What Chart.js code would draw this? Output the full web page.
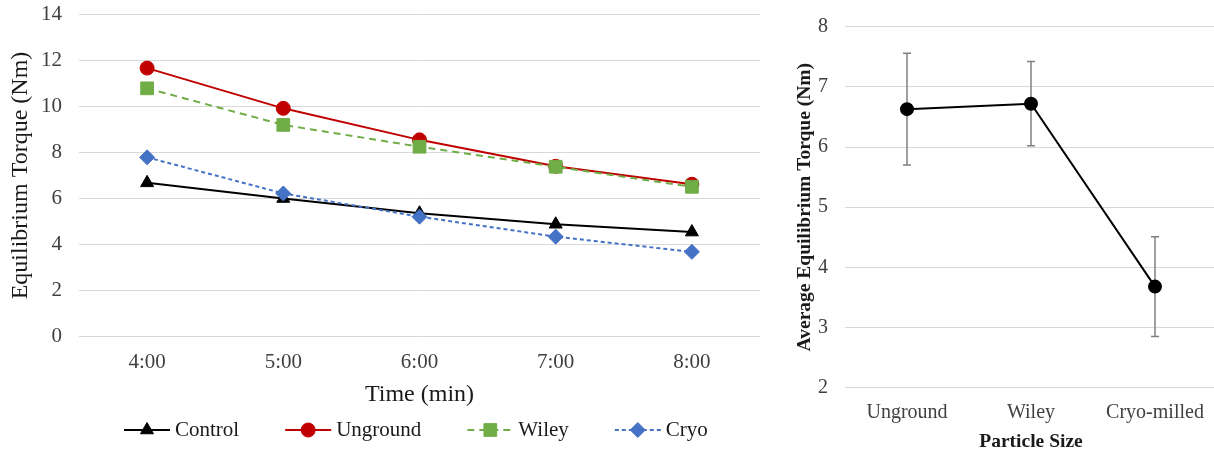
<!DOCTYPE html>
<html>
<head>
<meta charset="utf-8">
<script src="https://cdn.jsdelivr.net/npm/chart.js@4"></script>
<style>
  html, body { margin: 0; padding: 0; background: #fff; overflow: hidden; }
  #left { position: absolute; left: 0; top: 0; width: 760px; height: 450px; }
  #right { position: absolute; left: 760px; top: 0; width: 457px; height: 450px; }
</style>
</head>
<body>
<div id="left"><canvas id="timeChart"></canvas></div>
<div id="right"><canvas id="sizeChart"></canvas></div>
<script>
// left chart: torque over time
const times = ['4:00', '5:00', '6:00', '7:00', '8:00'];
const control = [6.68, 6.0, 5.36, 4.88, 4.54];
const unground = [11.67, 9.92, 8.55, 7.4, 6.62];
const wiley = [10.79, 9.2, 8.25, 7.38, 6.51];
const cryo = [7.79, 6.22, 5.21, 4.34, 3.68];
const torqueTicks = [0, 2, 4, 6, 8, 10, 12, 14];

// right chart: average torque by particle size
const sizes = ['Unground', 'Wiley', 'Cryo-milled'];
const avgTorque = [6.63, 6.72, 3.68];
const torqueErr = [0.93, 0.70, 0.83];

const serif = 'Liberation Serif';
const tickColor = '#404040';
const titleColor = '#1a1a1a';
const gridColor = '#d9d9d9';

// legend with line + marker like the original
const lineLegend = {
    id: 'lineLegend',
    afterDraw(chart) {
        const ctx = chart.ctx;
        const y = 430;
        let x = 124;
        ctx.save();
        ctx.font = '21px "' + serif + '"';
        ctx.textBaseline = 'middle';
        chart.data.datasets.forEach(ds => {
            ctx.strokeStyle = ds.borderColor;
            ctx.lineWidth = ds.borderWidth;
            ctx.setLineDash(ds.borderDash || []);
            ctx.beginPath();
            ctx.moveTo(x, y);
            ctx.lineTo(x + 46, y);
            ctx.stroke();
            ctx.setLineDash([]);
            ctx.fillStyle = ds.pointBackgroundColor;
            ctx.strokeStyle = ds.pointBorderColor;
            ctx.lineWidth = 1;
            Chart.helpers.drawPoint(ctx, {
                pointStyle: ds.pointStyle,
                radius: ds.pointRadius,
                rotation: 0,
                borderWidth: 1
            }, x + 23, y);
            ctx.fillStyle = titleColor;
            ctx.fillText(ds.label, x + 51, y);
            x += 51 + ctx.measureText(ds.label).width + 46;
        });
        ctx.restore();
    }
};

function series(label, data, color, style, radius, dash, order) {
    return {
        label: label,
        data: data,
        borderColor: color,
        backgroundColor: color,
        borderWidth: 2,
        borderDash: dash,
        pointStyle: style,
        pointRadius: radius,
        pointHoverRadius: radius,
        pointBackgroundColor: color,
        pointBorderColor: color,
        pointBorderWidth: 1,
        tension: 0,
        order: order
    };
}

// keep tick padding from pushing the plot area around
function noEdgePadding(scale) {
    scale.paddingTop = 0;
    scale.paddingBottom = 0;
    scale.paddingLeft = 0;
    scale.paddingRight = 0;
}

new Chart(document.getElementById('timeChart'), {
    type: 'line',
    data: {
        labels: times,
        datasets: [
            series('Control', control, '#000000', 'triangle', 7.5, [], 4),
            series('Unground', unground, '#C00000', 'circle', 7, [], 3),
            series('Wiley', wiley, '#70AD47', 'rect', 9, [7, 5], 2),
            series('Cryo', cryo, '#4472C4', 'rectRot', 7.5, [4, 3], 1)
        ]
    },
    options: {
        responsive: true,
        maintainAspectRatio: false,
        animation: false,
        layout: { autoPadding: false, padding: { top: 14.5, bottom: 37, left: 0, right: 0 } },
        plugins: { legend: { display: false }, tooltip: { enabled: false } },
        scales: {
            x: {
                offset: true,
                grid: { display: false, drawTicks: false },
                border: { display: false },
                ticks: { font: { family: serif, size: 21 }, color: tickColor, padding: 13 },
                title: { display: true, text: 'Time (min)', font: { family: serif, size: 24 }, color: titleColor },
                afterFit(scale) { scale.height = 450 - 37 - 336.5; noEdgePadding(scale); }
            },
            y: {
                min: 0,
                max: 14,
                afterBuildTicks(scale) { scale.ticks = torqueTicks.map(v => ({ value: v })); },
                grid: { color: gridColor, lineWidth: 1, drawTicks: false },
                border: { display: false },
                ticks: { font: { family: serif, size: 21 }, color: tickColor, padding: 17 },
                title: { display: true, text: 'Equilibrium Torque (Nm)', font: { family: serif, size: 24 }, color: titleColor, padding: 6 },
                afterFit(scale) { scale.width = 79; noEdgePadding(scale); }
            }
        }
    },
    plugins: [lineLegend]
});

// error bars for the right chart, drawn under the line
const errorBars = {
    id: 'errorBars',
    beforeDatasetsDraw(chart) {
        const ctx = chart.ctx;
        const xs = chart.scales.x;
        const ys = chart.scales.y;
        ctx.save();
        ctx.strokeStyle = '#808080';
        ctx.lineWidth = 1.5;
        avgTorque.forEach((v, i) => {
            const x = xs.getPixelForValue(i);
            const top = ys.getPixelForValue(v + torqueErr[i]);
            const bot = ys.getPixelForValue(v - torqueErr[i]);
            ctx.beginPath();
            ctx.moveTo(x, top); ctx.lineTo(x, bot);
            ctx.moveTo(x - 4, top); ctx.lineTo(x + 4, top);
            ctx.moveTo(x - 4, bot); ctx.lineTo(x + 4, bot);
            ctx.stroke();
        });
        ctx.restore();
    }
};

new Chart(document.getElementById('sizeChart'), {
    type: 'line',
    data: {
        labels: sizes,
        datasets: [{
            label: 'Average',
            data: avgTorque,
            borderColor: '#000000',
            borderWidth: 2,
            pointRadius: 6,
            pointHoverRadius: 6,
            pointBackgroundColor: '#000000',
            pointBorderColor: '#000000',
            tension: 0
        }]
    },
    options: {
        responsive: true,
        maintainAspectRatio: false,
        animation: false,
        layout: { autoPadding: false, padding: { top: 26.7, bottom: 0, left: 24, right: 0 } },
        plugins: { legend: { display: false }, tooltip: { enabled: false } },
        scales: {
            x: {
                offset: true,
                grid: { display: false, drawTicks: false },
                border: { display: false },
                ticks: { font: { family: serif, size: 20 }, color: tickColor, padding: 13 },
                title: {
                    display: true, text: 'Particle Size',
                    font: { family: serif, size: 19.5, weight: 'bold', lineHeight: 0.8 },
                    color: titleColor, padding: 0
                },
                afterFit(scale) { scale.height = 450 - 387.7; noEdgePadding(scale); }
            },
            y: {
                min: 2,
                max: 8,
                ticks: { stepSize: 1, font: { family: serif, size: 20 }, color: tickColor, padding: 17 },
                grid: { color: gridColor, lineWidth: 1, drawTicks: false },
                border: { display: false },
                title: {
                    display: true, text: 'Average Equilibrium Torque (Nm)',
                    font: { family: serif, size: 19.5, weight: 'bold' },
                    color: titleColor, padding: 9
                },
                afterFit(scale) { scale.width = 61; noEdgePadding(scale); }
            }
        }
    },
    plugins: [errorBars]
});
</script>
</body>
</html>
